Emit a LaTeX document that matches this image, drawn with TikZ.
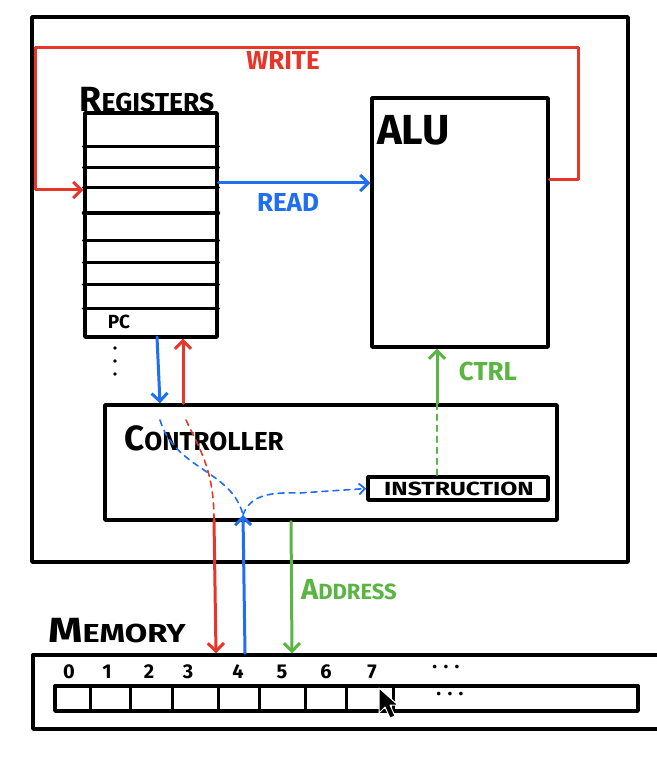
\documentclass[tikz,border=0pt]{standalone}
\usepackage{fontspec}
\usepackage{graphicx}
\setmainfont{Fira Sans}
\usetikzlibrary{arrows.meta}
\definecolor{cred}{HTML}{E8352A}
\definecolor{cblue}{HTML}{1F6FF0}
\definecolor{cgreen}{HTML}{5BB543}
\newcommand\firstcap[1]{{\fontsize{35}{35}\selectfont #1}}
\newcommand\widen[2]{\scalebox{#1}[1]{#2}}
\begin{document}
\begin{tikzpicture}[x=1pt,y=-1pt,line cap=round,line join=round,
  box/.style={draw=black,line width=3.4pt,inner sep=0pt,fill=none},
  thin/.style={line width=3pt},
  wire/.style={line width=3pt},
  tip/.style={-{Straight Barb[length=8pt,width=16pt,line width=3pt]}},
  dashline/.style={line width=1.6pt,dash pattern=on 6pt off 5pt},
  lbl/.style={font=\fontsize{26}{26}\selectfont\bfseries,inner sep=0pt},
  small/.style={font=\fontsize{20}{20}\selectfont\bfseries,inner sep=0pt}]
\useasboundingbox (0,0) rectangle (656,767);
\fill[white] (0,0) rectangle (656,767);

% boxes
\node[box,minimum width=596pt,minimum height=545pt] (cpu) at (330,289.5) {};
\node[box,minimum width=176pt,minimum height=249pt] (alu) at (460,222.5) {};
\node[box,minimum width=132pt,minimum height=224pt] (regs) at (151,225) {};
\node[box,minimum width=452pt,minimum height=115pt] (ctrl) at (331,462.5) {};
\node[box,minimum width=180pt,minimum height=23pt] (instr) at (458,488.5) {};
\node[box,minimum width=635pt,minimum height=74pt] (mem) at (350.5,692) {};
\node[box,minimum width=583pt,minimum height=25pt] (cells) at (346.5,698.5) {};

% register rows
\foreach \y in {147,168,188,213,240,262,284,308}
  \draw[thin] (regs.west |- 0,\y) -- (regs.east |- 0,\y);
% memory cells
\foreach \x in {90,130,172,218,259,305,346,393}
  \draw[thin] (\x,686) -- (\x,711);

% labels
\node[lbl] (lreg) at (147,100) {\widen{1.02}{\firstcap{R}EGISTERS}};
\node[lbl,text=cred] (lwrite) at (283,60) {WRITE};
\node[lbl,text=cblue] (lread) at (288,202) {READ};
\node[font=\fontsize{42}{42}\selectfont\bfseries,inner sep=0pt,anchor=west] (lalu) at (377,130) {ALU};
\node[font=\fontsize{19}{19}\selectfont\bfseries,inner sep=0pt] (lpc) at (119,322) {PC};
\node[lbl,text=cgreen] (lctrl) at (488,371) {CTRL};
\node[lbl] (lcon) at (204,438) {\firstcap{C}ONTROLLER};
\node[font=\fontsize{19}{19}\selectfont\bfseries,inner sep=0pt] (linstr) at (459,489) {\widen{1.3}{INSTRUCTION}};
\node[font=\fontsize{22}{22}\selectfont\bfseries,inner sep=0pt,text=cgreen] (laddr) at (349,590) {{\fontsize{29}{29}\selectfont A}DDRESS};
\node[lbl] (lmem) at (117,631) {\widen{1.25}{\firstcap{M}EMORY}};

% memory indices
\foreach \x/\t in {69/0,107/1,149/2,188/3,238/4,282/5,326/6,372/7}
  \node[small] (n\t) at (\x,672) {\t};
\node[small] (dots1) at (446,667) {. . .};
\node[small] (dots2) at (450,694) {. . .};

% vertical dots under registers
\foreach \y in {348,361,374} \fill (115,\y) circle (1.8pt);

% WRITE loop
\coordinate (w1) at (578,180);
\coordinate (w2) at (578,48);
\coordinate (w3) at (35,48);
\coordinate (w4) at (35,190);
\draw[cred,wire,tip] (alu.east |- w1) -- (w1) -- (w2) -- (w3) -- (w4) -- (regs.west |- w4);

% READ
\coordinate (r1) at (0,183);
\draw[cblue,wire,tip] (regs.east |- r1) -- (alu.west |- r1);

% PC <-> controller
\draw[cblue,wire,tip] (157,337) -- (ctrl.north -| 160,0);
\draw[cred,wire,tip] (ctrl.north -| 183,0) -- (regs.south -| 183,0);

% CTRL
\coordinate (c1) at (437,0);
\draw[cgreen,wire,tip] (ctrl.north -| c1) -- (alu.south -| c1);
\draw[cgreen,dashline] (instr.north -| c1) -- (ctrl.north -| c1);

% dashed internal paths
\coordinate (bb) at (243,515);
\coordinate (rb) at (214,520);
\draw[cblue,dashline] (160,420) .. controls (175,470) and (232,470) .. (bb);
\draw[cred,dashline] (186,420) .. controls (200,450) and (214,470) .. (rb);
\draw[cblue,dashline,-{Straight Barb[length=6pt,width=11pt,line width=1.8pt]}] (bb) .. controls (250,495) and (270,492) .. (300,493) -- (instr.west);

% controller <-> memory
\draw[cred,wire,tip] (rb) -- (mem.north -| 216,0);
\draw[cblue,wire,tip] (mem.north -| 245,0) -- (bb);
\draw[cgreen,wire,tip] (ctrl.south -| 291,0) -- (mem.north -| 292,0);

% mouse cursor
\draw[white,line width=1pt,fill=black] (379,688) -- (379,713) -- (385,707) -- (390,718) -- (395,716) -- (390,705) -- (398,705) -- cycle;
\end{tikzpicture}
\end{document}
